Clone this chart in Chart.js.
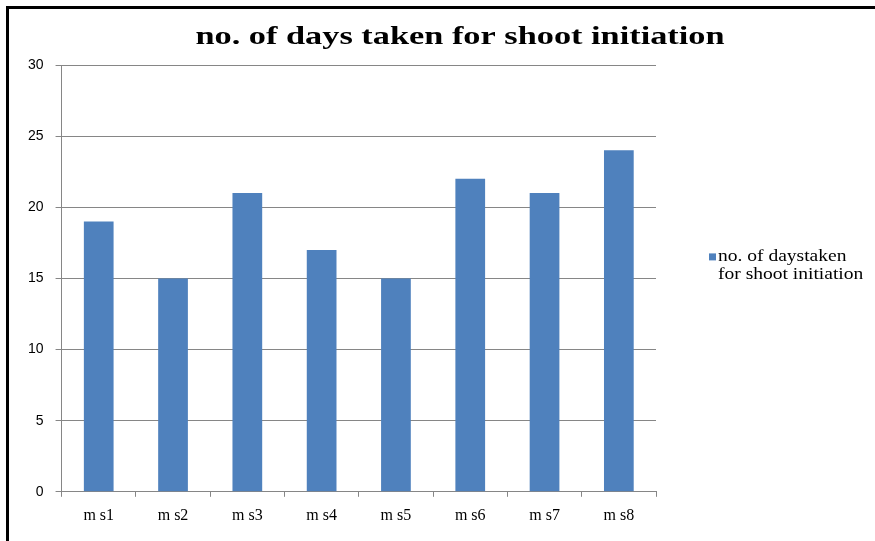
<!DOCTYPE html>
<html>
<head>
<meta charset="utf-8">
<script src="https://cdn.jsdelivr.net/npm/chart.js@4/dist/chart.umd.min.js"></script>
<style>
  html, body { margin: 0; padding: 0; background: #fff; overflow: hidden; }
  #frame { position: absolute; left: 6px; top: 6px; right: 0; bottom: 0; border-left: 3px solid #000; border-top: 3px solid #000; }
  #wrap { position: absolute; left: 0; top: 0; width: 875px; height: 541px; }
</style>
</head>
<body>
<div id="frame"></div>
<div id="wrap"><canvas id="chart"></canvas></div>
<script>
var categories = ['m s1', 'm s2', 'm s3', 'm s4', 'm s5', 'm s6', 'm s7', 'm s8'];
var days = [19, 15, 21, 17, 15, 22, 21, 24];
var seriesName = 'no. of days taken for shoot initiation';
var legendLines = ['no. of daystaken', 'for shoot initiation'];

// the source image is stretched sideways, so title and legend text get drawn wider
var titleStretch = 1.32;
var legendStretch = 1.22;

var wideText = {
  id: 'wideText',
  afterDraw: function (chart) {
    var ctx = chart.ctx;
    var area = chart.chartArea;
    ctx.save();
    // title
    ctx.font = 'bold 26px "Liberation Serif"';
    ctx.fillStyle = '#000';
    ctx.textAlign = 'center';
    ctx.textBaseline = 'alphabetic';
    ctx.save();
    ctx.translate(460, 44);
    ctx.scale(titleStretch, 1);
    ctx.fillText(seriesName, 0, 0);
    ctx.restore();

    // legend
    var x = area.right + 53;
    var y = (area.top + area.bottom) / 2 - 22;
    ctx.fillStyle = chart.data.datasets[0].backgroundColor;
    ctx.fillRect(x, y - 3, 7, 7);
    ctx.fillStyle = '#000';
    ctx.font = '16px "Liberation Serif"';
    ctx.textAlign = 'left';
    ctx.textBaseline = 'middle';
    legendLines.forEach(function (line, i) {
      ctx.save();
      ctx.translate(x + 9, y + i * 18);
      ctx.scale(legendStretch, 1);
      ctx.fillText(line, 0, 0);
      ctx.restore();
    });
    ctx.restore();
  }
};

var ctx = document.getElementById('chart');
var myChart = new Chart(ctx, {
type: 'bar',
data: {
    labels: categories,
    datasets: [{
        label: seriesName,
        data: days,
        backgroundColor: '#4F81BD',
        borderWidth: 0,
        barPercentage: 1,
        categoryPercentage: 0.4
    }]
},
options: {
    responsive: true,
    maintainAspectRatio: false,
    animation: false,
    layout: {
        padding: { left: 16, right: 219, top: 65, bottom: 7 }
    },
    plugins: {
        legend: { display: false },
        tooltip: { enabled: false },
        title: { display: false }
    },
    scales: {
        x: {
            grid: {
                drawOnChartArea: false,
                drawTicks: true,
                tickLength: 5,
                color: '#868686'
            },
            border: { color: '#868686', width: 1 },
            ticks: {
                color: '#000',
                font: { family: '"Liberation Serif"', size: 16 },
                padding: 9,
                maxRotation: 0
            }
        },
        y: {
            min: 0,
            max: 30,
            ticks: {
                stepSize: 5,
                color: '#000',
                font: { family: '"Liberation Sans"', size: 14 },
                padding: 12
            },
            grid: {
                color: '#868686',
                tickLength: 6
            },
            border: { color: '#868686', width: 1 }
        }
    }
},
plugins: [wideText]
});
</script>
</body>
</html>
